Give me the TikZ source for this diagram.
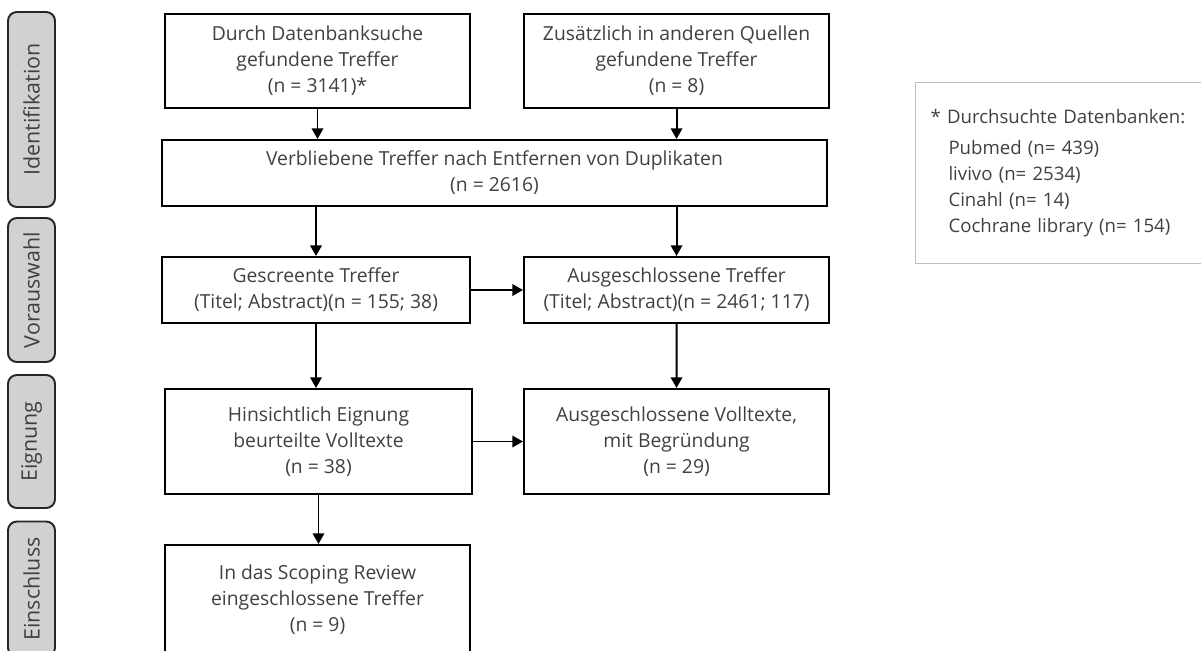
\documentclass[tikz,border=0pt]{standalone}
\usepackage{fontspec}
\setmainfont{Open Sans}
\usetikzlibrary{positioning,arrows.meta}
\tikzset{
  stepbox/.style={rectangle, draw, line width=1.2pt, text=black!75, align=center,
                  font=\fontsize{11}{14.8}\selectfont, inner sep=2pt},
  phase/.style={rectangle, rounded corners=5pt, draw=black!85, fill=black!18, line width=1.1pt,
                rotate=90, text=black!75, font=\fontsize{12.2}{13}\selectfont,
                minimum height=0.94cm, inner sep=0pt},
  fwd/.style={-{Triangle[length=6pt,width=6.5pt]}, line width=1.1pt},
  notebox/.style={rectangle, draw=black!25, line width=0.6pt, text=black!75, align=left,
                  font=\fontsize{10.6}{14.8}\selectfont},
}

\begin{document}
\begin{tikzpicture}[x=0.02cm, y=-0.02cm]
  \useasboundingbox (0,0) rectangle (1201,650);
  \clip (0,0) rectangle (1201,650);

  % phases
  \node[phase, minimum width=3.9cm] (ident) at (31.5,109.5) {Identifikation};
  \node[phase, minimum width=2.88cm] (presel) at (31.5,290) {Vorauswahl};
  \node[phase, minimum width=2.66cm] (elig) at (31.5,441.5) {Eignung};
  \node[phase, minimum width=2.7cm] (incl) at (31.5,589) {Einschluss};

  % flow
  \node[stepbox, minimum width=6.1cm, minimum height=1.88cm] (db) at (317.5,61) {Durch Datenbanksuche\\gefundene Treffer\\(n = 3141)*};
  \node[stepbox, minimum width=6.1cm, minimum height=1.88cm] (other) [right=1.04cm of db] {Zusätzlich in anderen Quellen\\gefundene Treffer\\(n = 8)};
  \node[stepbox, minimum width=13.3cm, minimum height=1.32cm] (dup) at (494.5,173) {Verbliebene Treffer nach Entfernen von Duplikaten\\(n = 2616)};
  \node[stepbox, minimum width=6.16cm, minimum height=1.32cm] (screen) at (316,290) {Gescreente Treffer\\(Titel; Abstract)(n = 155; 38)};
  \node[stepbox, minimum width=6.1cm, minimum height=1.32cm] (excl) [right=1.04cm of screen] {Ausgeschlossene Treffer\\(Titel; Abstract)(n = 2461; 117)};
  \node[stepbox, minimum width=6.14cm, minimum height=2.1cm] (full) at (318.5,441.5) {Hinsichtlich Eignung\\beurteilte Volltexte\\(n = 38)};
  \node[stepbox, minimum width=6.1cm, minimum height=2.1cm] (exfull) [right=1.0cm of full] {Ausgeschlossene Volltexte,\\mit Begründung\\(n = 29)};
  \node[stepbox, minimum width=6.1cm, minimum height=2.2cm] (review) at (317.5,600) {In das Scoping Review\\eingeschlossene Treffer\\(n = 9)};

  % note
  \node[notebox, anchor=north west, minimum height=3.62cm, text width=5.6cm, inner xsep=0.3cm] (note) at (915,82)
    {\vspace*{3pt}* Durchsuchte Datenbanken:\\
     \hspace*{0.36cm}Pubmed (n= 439)\\
     \hspace*{0.36cm}livivo (n= 2534)\\
     \hspace*{0.36cm}Cinahl (n= 14)\\
     \hspace*{0.36cm}Cochrane library (n= 154)};

  \draw[fwd] (db.south) -- (db.south |- dup.north);
  \draw[fwd] (other.south) -- (other.south |- dup.north);
  \draw[fwd] (dup.south -| screen) -- (screen.north);
  \draw[fwd] (dup.south -| excl) -- (excl.north);
  \draw[fwd] (screen) -- (excl);
  \draw[fwd] (screen.south) -- (screen.south |- full.north);
  \draw[fwd] (excl) -- (exfull);
  \draw[fwd] (full) -- (exfull);
  \draw[fwd] (full.south) -- (full.south |- review.north);

\end{tikzpicture}
\end{document}
